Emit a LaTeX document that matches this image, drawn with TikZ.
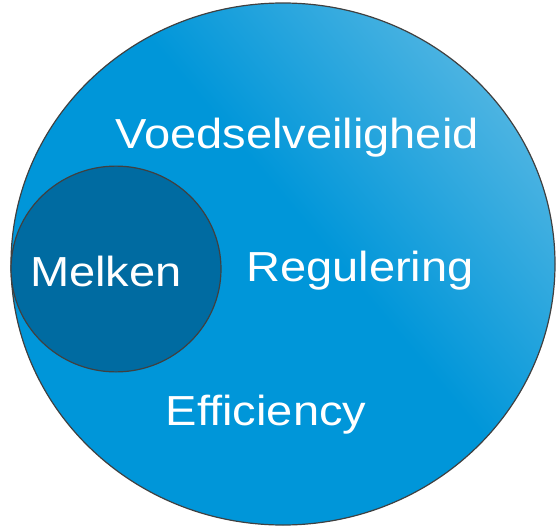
\documentclass[tikz,border=0pt]{standalone}
\usepackage{fontspec}
\setmainfont{Liberation Sans}
\definecolor{basebl}{HTML}{0096D9}
\definecolor{lightbl}{HTML}{A5D6EC}
\definecolor{darkbl}{HTML}{006BA1}
\definecolor{edge}{HTML}{404040}
\pgfdeclarehorizontalshading{bigshade}{100bp}{color(0bp)=(basebl); color(54bp)=(basebl); color(100bp)=(lightbl)}
\begin{document}
\begin{tikzpicture}[x=1pt,y=-1pt,
  lbl/.style={text=white, font=\fontsize{42}{42}\selectfont, anchor=base, inner sep=0pt, xscale=1.12, transform shape}]
\useasboundingbox (0,0) rectangle (557,527);
\shade[shading=bigshade, shading angle=40, draw=edge, line width=1.2pt] (283,264) ellipse [x radius=272, y radius=261];
\node[circle, draw=edge, fill=darkbl, line width=1.2pt, minimum size=210pt, inner sep=0pt, yscale=0.98] (melkc) at (116,269) {};
\node[lbl] (melk) at (106,286) {Melken};
\node[lbl] (voed) at (297,148) {Voedselveiligheid};
\node[lbl] (reg) at (360,281) {Regulering};
\node[lbl] (eff) at (266,425) {Efficiency};
\end{tikzpicture}
\end{document}
